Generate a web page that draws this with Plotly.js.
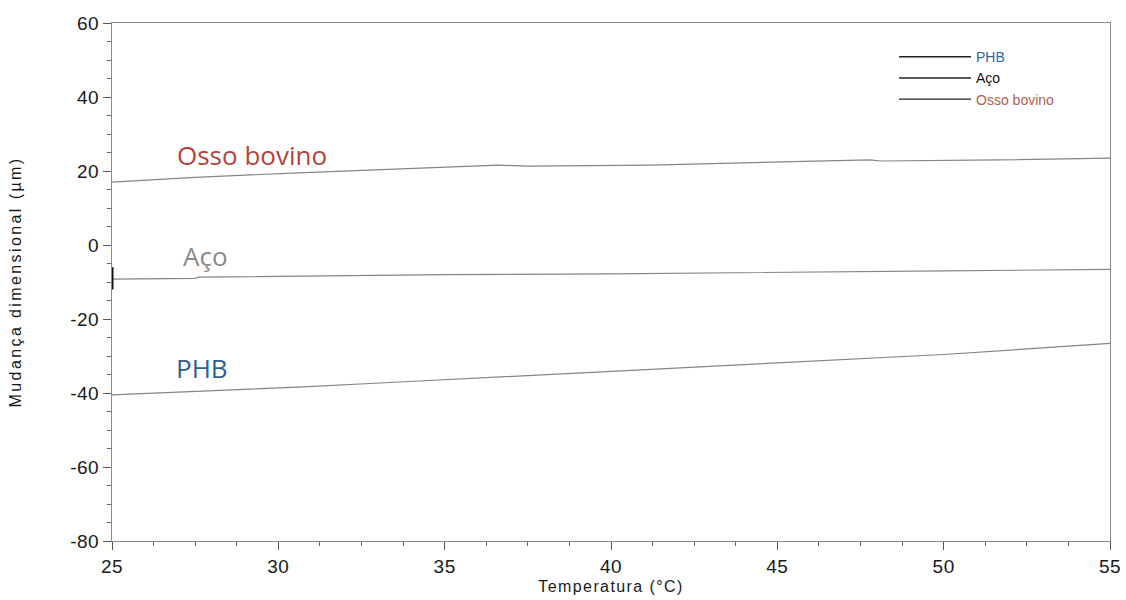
<!DOCTYPE html>
<html>
<head>
<meta charset="utf-8">
<script src="https://cdn.plot.ly/plotly-3.0.1.min.js"></script>
<style>
  html, body { margin: 0; padding: 0; background: #fff; }
  #chart { width: 1126px; height: 600px; }
  /* slightly widened lettering for axis and tick text */
  #chart .xtick text, #chart .ytick text { letter-spacing: 0.5px; }
  #chart .g-xtitle text { letter-spacing: 1.4px; }
  #chart .g-ytitle text { letter-spacing: 2.4px; }
  /* legend keys drawn darker than the curves themselves */
  #chart .legend path.js-line { stroke: #222 !important; stroke-width: 1.4px !important; }
</style>
</head>
<body>
<div id="chart"></div>
<script>
// Temperature (°C) and dimensional change (µm) for each material
const phbTemp   = [25, 27.5, 30.6, 33.5, 36.6, 40, 45.7, 50, 55];
const phbChange = [-40.5, -39.6, -38.4, -37.1, -35.7, -34.2, -31.7, -29.6, -26.6];

const acoTemp   = [25, 27.5, 27.6, 30, 35, 40, 45, 50, 55];
const acoChange = [-9.2, -9.0, -8.7, -8.5, -8.0, -7.8, -7.5, -7.0, -6.6];

const ossoTemp   = [25, 27.5, 30.6, 34.5, 36.6, 37.5, 41.2, 44.8, 47.8, 48.1, 51.7, 55];
const ossoChange = [17.0, 18.3, 19.5, 20.8, 21.6, 21.3, 21.6, 22.4, 23.0, 22.7, 23.0, 23.5];

// short dark mark on the axis at the start of the steel curve
const markTemp   = [25, 25];
const markChange = [-6, -12];

const xTicks = [25, 30, 35, 40, 45, 50, 55];
const yTicks = [-80, -60, -40, -20, 0, 20, 40, 60];

const seriesNames  = ['PHB', 'Aço', 'Osso bovino'];
const legendColors = ['#2f66a0', '#111111', '#b0624e'];
const labelColors  = ['#2d5f93', '#8a8a8a', '#b4433c'];
const labelTemp    = [27.7, 27.8, 29.2];
const labelChange  = [-33.2, -3.0, 24.3];

const lineColor = '#858585';

const curves = [[phbTemp, phbChange], [acoTemp, acoChange], [ossoTemp, ossoChange]];

const traces = curves.map((c, i) => ({
  x: c[0], y: c[1],
  type: 'scatter', mode: 'lines',
  name: '<span style="color:' + legendColors[i] + '">' + seriesNames[i] + '</span>',
  line: { color: lineColor, width: 1.2 },
  hoverinfo: 'x+y'
}));

traces.push({
  x: markTemp, y: markChange,
  type: 'scatter', mode: 'lines',
  line: { color: '#111', width: 3 },
  showlegend: false, hoverinfo: 'skip'
});

const annotations = seriesNames.map((n, i) => ({
  x: labelTemp[i], y: labelChange[i], xref: 'x', yref: 'y',
  text: n, showarrow: false,
  font: { family: 'Open Sans, Liberation Sans, sans-serif', size: 26, color: labelColors[i] }
}));

const axisCommon = {
  showgrid: false, zeroline: false,
  showline: true, linecolor: '#8a8a8a', linewidth: 1, mirror: true,
  ticks: 'outside', ticklen: 8, tickcolor: '#555', tickwidth: 1,
  tickfont: { family: 'Liberation Sans, Arial, sans-serif', size: 19, color: '#1a1a1a' }
};

const layout = {
  width: 1126, height: 600,
  paper_bgcolor: '#ffffff', plot_bgcolor: '#ffffff',
  margin: { l: 112, r: 16, t: 23, b: 59 },
  showlegend: true,
  legend: {
    x: 0.7836, y: 0.965, xanchor: 'left', yanchor: 'top',
    bgcolor: 'rgba(0,0,0,0)',
    itemwidth: 72,
    font: { family: 'Liberation Sans, Arial, sans-serif', size: 14, color: '#222' },
    tracegroupgap: 0
  },
  xaxis: Object.assign({}, axisCommon, {
    range: [25, 55], tickvals: xTicks, ticktext: xTicks.map(String),
    minor: { dtick: 1.25, tick0: 25, ticks: 'outside', ticklen: 4, tickcolor: '#666' },
    title: { text: 'Temperatura (°C)', standoff: 5,
      font: { family: 'Liberation Sans, Arial, sans-serif', size: 16, color: '#1a1a1a' } }
  }),
  yaxis: Object.assign({}, axisCommon, {
    range: [-80, 60], tickvals: yTicks, ticktext: yTicks.map(String),
    minor: { dtick: 5, tick0: 0, ticks: 'outside', ticklen: 4, tickcolor: '#666' },
    title: { text: 'Mudança dimensional (µm)', standoff: 46,
      font: { family: 'Liberation Sans, Arial, sans-serif', size: 16, color: '#1a1a1a' } }
  }),
  annotations: annotations
};

Plotly.newPlot('chart', traces, layout, { displayModeBar: false, staticPlot: true });
</script>
</body>
</html>
